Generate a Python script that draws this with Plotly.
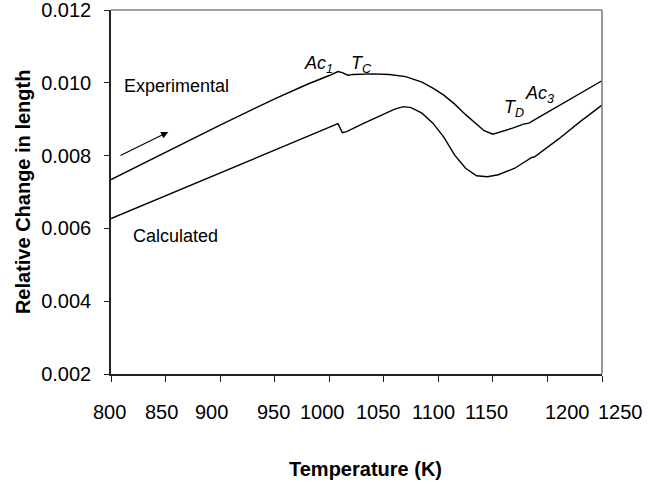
import plotly.graph_objects as go

# Experimental dilatometry curve (Temperature K, relative change in length)
exp_T = [800, 850, 900, 950, 980, 1000, 1008, 1012, 1017, 1022, 1040, 1055, 1070, 1085,
         1095, 1105, 1115, 1125, 1135, 1142, 1150, 1158, 1168, 1178, 1181, 1183, 1190,
         1210, 1230, 1250]
exp_v = [0.00734, 0.00810, 0.00884, 0.00956, 0.00996, 0.01020, 0.01031, 0.01028, 0.01021,
         0.01023, 0.010245, 0.010226, 0.01017, 0.01002, 0.009854, 0.009662, 0.009414,
         0.009125, 0.00885, 0.008685, 0.008589, 0.008657, 0.008754, 0.008864, 0.008875,
         0.008890, 0.009015, 0.009359, 0.009689, 0.010055]

# Calculated curve
calc_T = [800, 850, 900, 950, 990, 1005, 1008, 1012, 1016, 1030, 1050, 1060, 1068, 1075,
          1085, 1095, 1105, 1115, 1125, 1135, 1145, 1155, 1170, 1184, 1186, 1188, 1210,
          1230, 1250]
calc_v = [0.006270, 0.006897, 0.007524, 0.008162, 0.008671, 0.008850, 0.008878, 0.008630,
          0.008657, 0.008864, 0.009139, 0.009276, 0.009345, 0.009318, 0.009166, 0.008891,
          0.008506, 0.008011, 0.007653, 0.007447, 0.007420, 0.007475, 0.007653, 0.007925,
          0.007955, 0.007960, 0.008451, 0.008933, 0.009387]

x_ticks = [800, 850, 900, 950, 1000, 1050, 1100, 1150, 1200, 1250]
x_tick_labels = ["800", "850", "900", "950", "1000", "1050", "1100", "1150", "1200", "1250"]
# where the (hand-placed) labels sit along the axis, in K
x_label_pos = [799, 846, 892, 948.5, 994, 1045, 1096, 1144.5, 1218, 1267]
y_ticks = [0.002, 0.004, 0.006, 0.008, 0.010, 0.012]

X0, X1 = 800, 1250
FONT = "Liberation Sans, Arial, sans-serif"

fig = go.Figure()
fig.add_trace(go.Scatter(x=exp_T, y=exp_v, mode="lines",
                         line=dict(color="black", width=1.4), showlegend=False,
                         hoverinfo="skip"))
fig.add_trace(go.Scatter(x=calc_T, y=calc_v, mode="lines",
                         line=dict(color="black", width=1.4), showlegend=False,
                         hoverinfo="skip"))

annotations = []
for pos, lab in zip(x_label_pos, x_tick_labels):
    annotations.append(dict(x=(pos - X0) / (X1 - X0), y=0, xref="paper", yref="paper",
                            text=lab, showarrow=False, xanchor="center", yanchor="middle",
                            yshift=-38, font=dict(family=FONT, size=20, color="black")))

annotations += [
    dict(x=-0.179, y=0.5, xref="paper", yref="paper", text="<b>Relative Change in length</b>",
         textangle=-90, showarrow=False, xanchor="center", yanchor="middle",
         font=dict(family=FONT, size=20, color="black")),
    dict(x=0.519, y=0, xref="paper", yref="paper", text="<b>Temperature (K)</b>",
         showarrow=False, xanchor="center", yanchor="middle", yshift=-95,
         font=dict(family=FONT, size=20, color="black")),
    dict(x=810, y=0.00991, xref="x", yref="y", text="Experimental", showarrow=False,
         xanchor="left", yanchor="middle", font=dict(family=FONT, size=18, color="black")),
    dict(x=818, y=0.00578, xref="x", yref="y", text="Calculated", showarrow=False,
         xanchor="left", yanchor="middle", font=dict(family=FONT, size=18, color="black")),
    dict(x=1005, y=0.01050, xref="x", yref="y", text="<i>Ac<sub>1</sub></i>",
         showarrow=False, xanchor="right", yanchor="middle",
         font=dict(family=FONT, size=18, color="black")),
    dict(x=1018, y=0.01050, xref="x", yref="y", text="<i>T<sub>C</sub></i>",
         showarrow=False, xanchor="left", yanchor="middle",
         font=dict(family=FONT, size=18, color="black")),
    dict(x=1180, y=0.00892, xref="x", yref="y", text="<i>T<sub>D</sub></i>",
         showarrow=False, xanchor="right", yanchor="bottom",
         font=dict(family=FONT, size=18, color="black")),
    dict(x=1178, y=0.00930, xref="x", yref="y", text="<i>Ac<sub>3</sub></i>",
         showarrow=False, xanchor="left", yanchor="bottom",
         font=dict(family=FONT, size=18, color="black")),
    dict(x=852.5, y=0.00865, ax=807.3, ay=0.00798, xref="x", yref="y", axref="x", ayref="y",
         text="", showarrow=True, arrowhead=2, arrowsize=1.3, arrowwidth=1.1,
         arrowcolor="black"),
]

fig.update_layout(
    width=648, height=490,
    margin=dict(l=111, r=46, t=10, b=116, autoexpand=False),
    paper_bgcolor="white", plot_bgcolor="white",
    annotations=annotations,
    xaxis=dict(range=[X0, X1], tickvals=x_ticks, showticklabels=False,
               ticks="outside", ticklen=6, tickwidth=1.2, tickcolor="#222",
               showline=True, linecolor="#222", linewidth=1.6, showgrid=False,
               zeroline=False, fixedrange=True, automargin=False),
    yaxis=dict(range=[0.00199999, 0.01200001], tickvals=y_ticks, tickformat=".3f",
               ticks="outside", ticklen=5, tickwidth=1.2, tickcolor="#222",
               showline=True, linecolor="#222", linewidth=1.6, showgrid=False,
               zeroline=False, ticklabelstandoff=9, ticklabeloverflow="allow",
               automargin=False,
               tickfont=dict(family=FONT, size=20, color="black"), fixedrange=True),
    shapes=[
        dict(type="line", xref="paper", yref="paper", x0=0, x1=1, y0=1, y1=1,
             line=dict(color="#808080", width=1.6)),
        dict(type="line", xref="paper", yref="paper", x0=1, x1=1, y0=0, y1=1,
             line=dict(color="#808080", width=1.6)),
    ],
)

fig.write_html("out.html")
